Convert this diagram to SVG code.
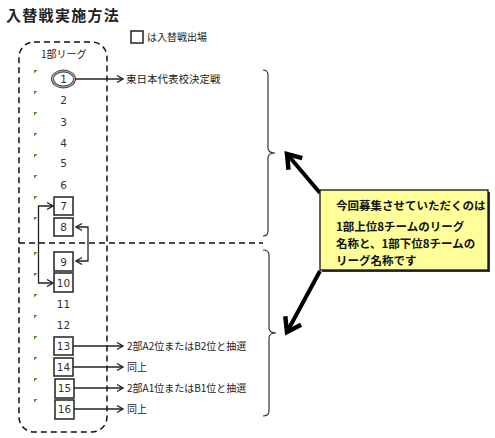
<svg xmlns="http://www.w3.org/2000/svg" width="495" height="438" viewBox="0 0 495 438">
<style>
text{font-family:"Noto Sans CJK JP","DejaVu Sans",sans-serif;fill:#222}
.num{font-family:"DejaVu Sans","Noto Sans CJK JP",sans-serif;font-size:10.5px;text-anchor:middle;fill:#333}
.lbl{font-size:10px}
.box{fill:#fff;stroke:#222;stroke-width:1.5}
.tri{fill:#4e8a3a}
.con{fill:none;stroke:#222;stroke-width:1.3}
.brace{fill:none;stroke:#333;stroke-width:1.2}
.dash{fill:none;stroke:#111;stroke-width:1.5;stroke-dasharray:6 4}
.call{font-size:11.5px;font-weight:bold;fill:#111}
.thick{fill:none;stroke:#000;stroke-width:4}
</style>
<defs>
<marker id="ah" markerUnits="userSpaceOnUse" markerWidth="10" markerHeight="10" refX="8" refY="5" orient="auto-start-reverse">
<path d="M2,1.5 L8,5 L2,8.5" fill="none" stroke="#222" stroke-width="1.4"/>
</marker>
<marker id="big" markerUnits="userSpaceOnUse" markerWidth="20" markerHeight="22" refX="16" refY="11" orient="auto">
<path d="M3,2 L16,11 L3,20" fill="none" stroke="#000" stroke-width="4.5" stroke-linejoin="miter"/>
</marker>
</defs>

<text x="6" y="21" style="font-size:15px;font-weight:bold;letter-spacing:1.3px">入替戦実施方法</text>

<g id="legend">
<rect x="131" y="31" width="12" height="12" class="box"/>
<text x="147" y="41" class="lbl">は入替戦出場</text>
</g>

<g id="league">
<rect x="19" y="42" width="88" height="390" rx="15" ry="15" class="dash"/>
<text x="41" y="58" class="lbl">1部リーグ</text>
</g>

<line x1="19" y1="243" x2="263" y2="243" class="dash"/>

<g id="marks">
<polygon class="tri" points="34,70 37.5,70 34,73.5"/>
<polygon class="tri" points="34,91 37.5,91 34,94.5"/>
<polygon class="tri" points="34,112 37.5,112 34,115.5"/>
<polygon class="tri" points="34,133 37.5,133 34,136.5"/>
<polygon class="tri" points="34,154 37.5,154 34,157.5"/>
<polygon class="tri" points="34,175 37.5,175 34,178.5"/>
<polygon class="tri" points="34,196 37.5,196 34,199.5"/>
<polygon class="tri" points="34,217 37.5,217 34,220.5"/>
<polygon class="tri" points="34,252 37.5,252 34,255.5"/>
<polygon class="tri" points="34,273 37.5,273 34,276.5"/>
<polygon class="tri" points="34,294 37.5,294 34,297.5"/>
<polygon class="tri" points="34,315 37.5,315 34,318.5"/>
<polygon class="tri" points="34,336 37.5,336 34,339.5"/>
<polygon class="tri" points="34,357 37.5,357 34,360.5"/>
<polygon class="tri" points="34,378 37.5,378 34,381.5"/>
<polygon class="tri" points="34,399 37.5,399 34,402.5"/>
</g>

<g id="t1">
<ellipse cx="63.5" cy="79" rx="11" ry="8" fill="#fff" stroke="#444" stroke-width="3"/>
<ellipse cx="63.5" cy="79" rx="11" ry="8" fill="none" stroke="#aaa" stroke-width="1.2"/>
<text x="63.5" y="83" class="num">1</text>
</g>
<g id="t2"><text x="63.5" y="104" class="num">2</text></g>
<g id="t3"><text x="63.5" y="126" class="num">3</text></g>
<g id="t4"><text x="63.5" y="147" class="num">4</text></g>
<g id="t5"><text x="63.5" y="167" class="num">5</text></g>
<g id="t6"><text x="63.5" y="189" class="num">6</text></g>
<g id="t7"><rect x="54" y="197" width="19" height="18" class="box"/><text x="63.5" y="210" class="num">7</text></g>
<g id="t8"><rect x="54" y="218" width="19" height="18" class="box"/><text x="63.5" y="231" class="num">8</text></g>
<g id="t9"><rect x="54" y="252" width="19" height="19" class="box"/><text x="63.5" y="266" class="num">9</text></g>
<g id="t10"><rect x="54" y="273" width="19" height="19" class="box"/><text x="63.5" y="287" class="num">10</text></g>
<g id="t11"><text x="63.5" y="308" class="num">11</text></g>
<g id="t12"><text x="63.5" y="329" class="num">12</text></g>
<g id="t13"><rect x="54" y="337" width="19" height="18" class="box"/><text x="63.5" y="350" class="num">13</text></g>
<g id="t14"><rect x="54" y="358" width="19" height="18" class="box"/><text x="63.5" y="371" class="num">14</text></g>
<g id="t15"><rect x="55" y="379" width="19" height="19" class="box"/><text x="64.5" y="392" class="num">15</text></g>
<g id="t16"><rect x="55" y="400" width="19" height="19" class="box"/><text x="64.5" y="413" class="num">16</text></g>

<g id="connectors">
<line x1="75" y1="79" x2="123" y2="79" class="con" marker-end="url(#ah)"/>
<path d="M53,206 H38.5 V283 H53" class="con" marker-start="url(#ah)" marker-end="url(#ah)"/>
<path d="M76,227 H88 V261 H76" class="con" marker-start="url(#ah)" marker-end="url(#ah)"/>
<line x1="73" y1="346" x2="123" y2="346" class="con" marker-end="url(#ah)"/>
<line x1="73" y1="367" x2="123" y2="367" class="con" marker-end="url(#ah)"/>
<line x1="74" y1="388" x2="123" y2="388" class="con" marker-end="url(#ah)"/>
<line x1="74" y1="409" x2="123" y2="409" class="con" marker-end="url(#ah)"/>
<line x1="320" y1="193" x2="287" y2="154" class="thick" marker-end="url(#big)"/>
<line x1="320" y1="271" x2="287" y2="332" class="thick" marker-end="url(#big)"/>
</g>

<g id="labels">
<text x="126" y="83" style="font-size:10.5px">東日本代表校決定戦</text>
<text x="127" y="350" class="lbl">2部A2位またはB2位と抽選</text>
<text x="127" y="371" class="lbl">同上</text>
<text x="127" y="392" class="lbl">2部A1位またはB1位と抽選</text>
<text x="127" y="413" class="lbl">同上</text>
</g>

<g id="brace-upper">
<path d="M263,70 Q268,70 268,75 V148 Q268,153 275,153 Q268,153 268,158 V231 Q268,236 263,236" class="brace"/>
</g>
<g id="brace-lower">
<path d="M263,250 Q269,250 269,255 V328 Q269,333 276,333 Q269,333 269,338 V411 Q269,416 263,416" class="brace"/>
</g>

<g id="callout">
<rect x="322" y="192" width="168" height="80" fill="#333"/>
<rect x="320" y="190" width="168" height="80" fill="#ffff99" stroke="#111" stroke-width="1.3"/>
<text x="336" y="210" class="call">今回募集させていただくのは</text>
<text x="336" y="231" class="call">1部上位8チームのリーグ</text>
<text x="336" y="248" class="call">名称と、1部下位8チームの</text>
<text x="336" y="265" class="call">リーグ名称です</text>
</g>
</svg>
